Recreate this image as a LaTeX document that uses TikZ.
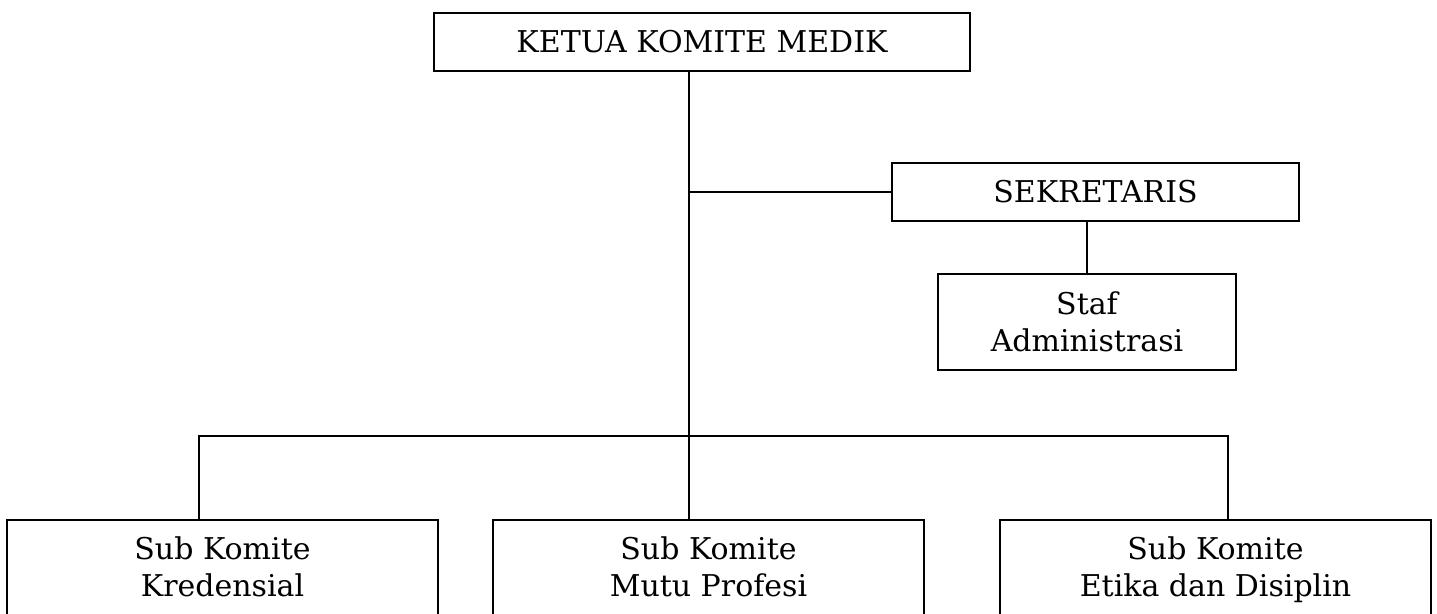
\documentclass[tikz,border=0pt]{standalone}
\usepackage{fontspec}
\setmainfont{DejaVu Serif}
\usepackage{tikz}

\begin{document}
\begin{tikzpicture}[x=1pt,y=-1pt,
    box/.style={draw,line width=1.8pt,align=center,inner sep=0pt,font=\fontsize{30}{37}\selectfont},
    link/.style={line width=1.8pt}]
    \useasboundingbox (0,0) rectangle (1437,613);
    \clip (0,0) rectangle (1437,613);
    \node[box,minimum width=536,minimum height=58] (ketua) at (702,42) {KETUA KOMITE MEDIK};
    \node[box,minimum width=407,minimum height=58] (sekretaris) at (1095.5,192) {SEKRETARIS};
    \node[box,minimum width=298,minimum height=96] (staf) at (1087,322) {Staf\\Administrasi};
    \node[box,minimum width=431,minimum height=102] (kredensial) at (222.5,571) {\strut Sub Komite\\\strut Kredensial};
    \node[box,minimum width=431,minimum height=102] (mutu) at (708.5,571) {\strut Sub Komite\\\strut Mutu Profesi};
    \node[box,minimum width=431,minimum height=102] (etika) at (1215.5,571) {\strut Sub Komite\\\strut Etika dan Disiplin};
    \coordinate (trunk) at (689,436);
    \coordinate (leftdrop) at (199,436);
    \coordinate (rightdrop) at (1228,436);
    \draw[link] (trunk |- ketua.south) -- (trunk |- mutu.north);
    \draw[link] (trunk |- sekretaris.west) -- (sekretaris.west);
    \draw[link] (staf.north) -- (staf.north |- sekretaris.south);
    \draw[link] (leftdrop |- kredensial.north) -- (leftdrop) -- (rightdrop) -- (rightdrop |- etika.north);
\end{tikzpicture}
\end{document}
